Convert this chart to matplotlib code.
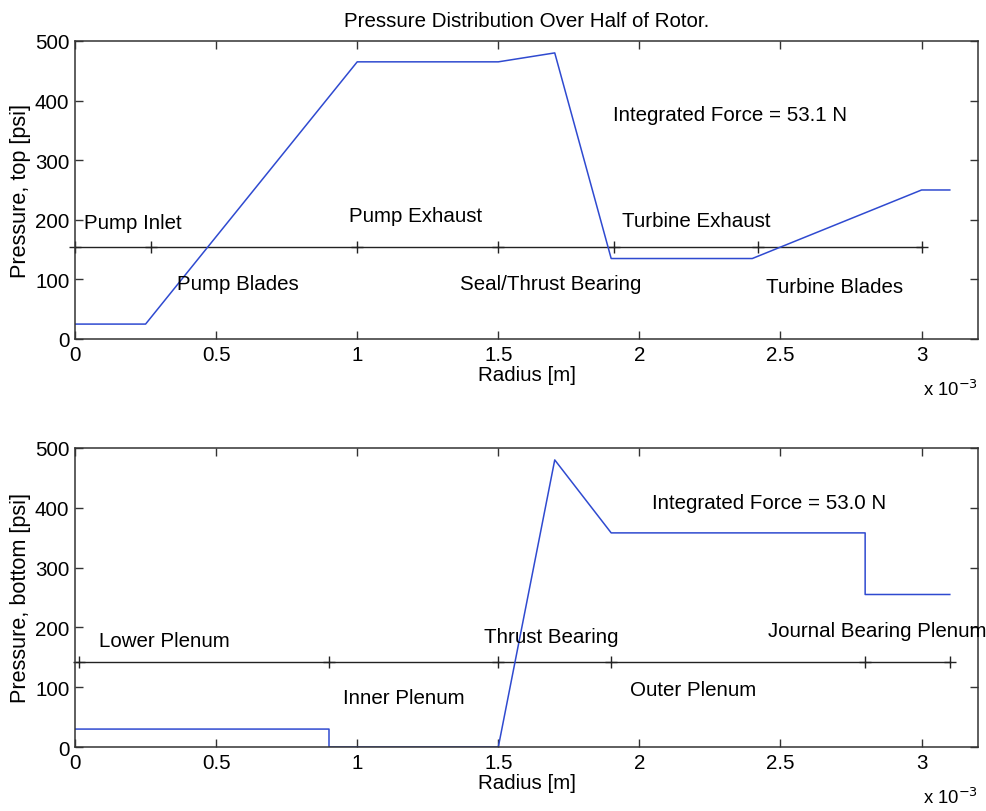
import matplotlib
matplotlib.use("Agg")
import matplotlib.pyplot as plt
from matplotlib.ticker import FuncFormatter, MultipleLocator

plt.rcParams['font.family'] = ['Liberation Sans', 'DejaVu Sans']

# ---- data (radius in metres, pressure in psi) ----
top_r = [0, 0.25e-3, 1.0e-3, 1.5e-3, 1.7e-3, 1.9e-3, 2.4e-3, 3.0e-3, 3.1e-3]
top_p = [25, 25, 465, 465, 480, 135, 135, 250, 250]
top_sep_r = [0, 0.27e-3, 1.0e-3, 1.5e-3, 1.91e-3, 2.42e-3, 3.0e-3]
top_sep_p = 155
top_labels = ["Pump Inlet", "Pump Blades", "Pump Exhaust", "Seal/Thrust Bearing",
              "Turbine Exhaust", "Turbine Blades"]
top_label_r = [0.03e-3, 0.36e-3, 0.97e-3, 1.365e-3, 1.94e-3, 2.45e-3]
top_label_p = [195, 93, 208, 93, 198, 88]
top_force = "Integrated Force = 53.1 N"

bot_r = [0, 0.9e-3, 0.9e-3, 1.5e-3, 1.7e-3, 1.9e-3, 2.8e-3, 2.8e-3, 3.1e-3]
bot_p = [30, 30, 0, 0, 480, 358, 358, 255, 255]
bot_sep_r = [0.015e-3, 0.9e-3, 1.5e-3, 1.9e-3, 2.8e-3, 3.1e-3]
bot_sep_p = 142
bot_labels = ["Lower Plenum", "Inner Plenum", "Thrust Bearing", "Outer Plenum",
              "Journal Bearing Plenum"]
bot_label_r = [0.085e-3, 0.95e-3, 1.45e-3, 1.965e-3, 2.455e-3]
bot_label_p = [178, 82, 185, 96, 195]
bot_force = "Integrated Force = 53.0 N"

title = "Pressure Distribution Over Half of Rotor."
xlabel = "Radius [m]"
ylabels = ["Pressure, top [psi]", "Pressure, bottom [psi]"]

FS = 14.8
blue = '#2f4ad0'
axcol = '#333333'

fig = plt.figure(figsize=(9.86, 8.12), dpi=100)
ax1 = fig.add_axes([0.0761, 0.5813, 0.9158, 0.367])
ax2 = fig.add_axes([0.0761, 0.0788, 0.9158, 0.3683])

def style(ax, ylabel):
    ax.set_xlim(0, 3.2e-3)
    ax.set_ylim(0, 500)
    ax.xaxis.set_major_locator(MultipleLocator(0.5e-3))
    ax.yaxis.set_major_locator(MultipleLocator(100))
    ax.xaxis.set_major_formatter(FuncFormatter(lambda v, p: f"{v*1e3:g}"))
    ax.tick_params(direction='in', top=True, right=True, length=6, width=1,
                   color=axcol, labelsize=FS, pad=4)
    for s in ax.spines.values():
        s.set_color(axcol)
        s.set_linewidth(1.1)
    ax.set_xlabel(xlabel, fontsize=FS, labelpad=1)
    ax.set_ylabel(ylabel, fontsize=FS + 0.8, labelpad=3)
    ax.text(1.0, -0.135, r"x 10$^{-3}$", transform=ax.transAxes, ha='right',
            va='top', fontsize=FS - 1.5)

style(ax1, ylabels[0])
style(ax2, ylabels[1])

ax1.set_title(title, fontsize=FS, pad=11)

# top
ax1.plot([top_sep_r[0], top_sep_r[-1]], [top_sep_p, top_sep_p], color='#222222', lw=1.0)
ax1.plot(top_sep_r, [top_sep_p] * len(top_sep_r), '+', color='#222222',
         markersize=8, mew=1.0, clip_on=False)
ax1.plot(top_r, top_p, color=blue, lw=1.1)
for t, r, p in zip(top_labels, top_label_r, top_label_p):
    ax1.text(r, p, t, fontsize=FS, va='center', ha='left')
ax1.text(1.907e-3, 376, top_force, fontsize=FS, va='center', ha='left')

# bottom
ax2.plot([0, bot_sep_r[-1]], [bot_sep_p, bot_sep_p], color='#222222', lw=1.0)
ax2.plot(bot_sep_r, [bot_sep_p] * len(bot_sep_r), '+', color='#222222',
         markersize=8, mew=1.0, clip_on=False)
ax2.plot(bot_r, bot_p, color=blue, lw=1.1)
for t, r, p in zip(bot_labels, bot_label_r, bot_label_p):
    ax2.text(r, p, t, fontsize=FS, va='center', ha='left', clip_on=False)
ax2.text(2.046e-3, 409, bot_force, fontsize=FS, va='center', ha='left')

fig.savefig("out.png", dpi=100)
